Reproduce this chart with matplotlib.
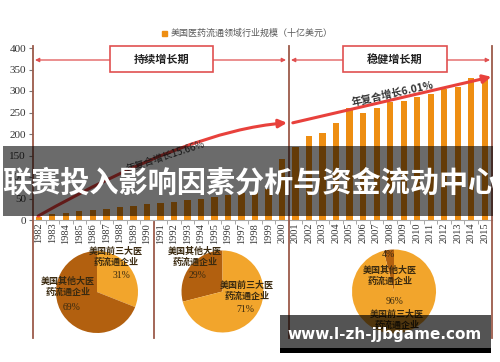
import matplotlib
matplotlib.use('Agg')
import matplotlib.pyplot as plt
from matplotlib.patches import Rectangle, FancyArrowPatch
from matplotlib.lines import Line2D
from matplotlib.path import Path

# data
years = list(range(1982, 2016))
sizes = [8, 13, 16, 20, 23, 26, 30, 33, 37,
         39, 43, 46, 49, 53, 57, 62, 66, 73, 141,
         170, 196, 203, 225, 260, 250, 261, 275, 277, 287, 292, 304, 309, 330, 335]
legend_label = '美国医药流通领域行业规模（十亿美元）'
phase_labels = ['持续增长期', '稳健增长期']
growth_labels = ['年复合增长15.66%', '年复合增长6.01%']
pie_names = ['美国前三大医\n药流通企业', '美国其他大医\n药流通企业']
pie_top3 = [31, 71, 96]
pie_other = [69, 29, 4]
title = '联赛投入影响因素分析与资金流动中心'
site = 'www.l-zh-jjbgame.com'

W, H = 500, 362
CJK = ['Noto Sans CJK SC', 'DejaVu Sans']
SERIF = 'Liberation Serif'
orange = '#EE8E12'
red = '#E8413C'
frame = '#9C5A4A'
light = '#F2A52C'
dark = '#B2600F'


def fx(x):
    return x / W


def fy(y):
    return 1 - y / H


fig = plt.figure(figsize=(5.0, 3.62), dpi=100)
fig.patch.set_facecolor('white')

ax = fig.add_axes([fx(33), fy(220), 459 / W, 172 / H])
idx = list(range(len(years)))
ax.bar(idx, sizes, width=0.45, color=orange, zorder=2)
ax.set_xlim(-0.44, 33.55)
ax.set_ylim(0, 400)
ax.set_yticks(range(0, 401, 50))
ax.set_yticklabels([str(v) for v in range(0, 401, 50)], fontfamily=SERIF, fontsize=8, color='#333333')
ax.set_xticks(idx)
ax.set_xticklabels([str(y) for y in years], rotation=90, fontfamily=SERIF, fontsize=7.5, color='#333333')
ax.set_xticks([i + 0.5 for i in idx[:-1]], minor=True)
ax.tick_params(axis='x', which='major', length=0, pad=2)
ax.tick_params(axis='x', which='minor', length=3, color='#999999')
ax.tick_params(axis='y', length=3, color='#777777', pad=2)
for s in ['top', 'right', 'left']:
    ax.spines[s].set_visible(False)
ax.spines['bottom'].set_color('#aaaaaa')

# growth arrows
p = Path([(-0.07, 9), (11.2, 209), (18.37, 226)], [Path.MOVETO, Path.CURVE3, Path.CURVE3])
ax.add_patch(FancyArrowPatch(path=p, arrowstyle='-|>', mutation_scale=12, lw=2.2,
                             color=red, zorder=3))
ax.add_patch(FancyArrowPatch((18.8, 226), (33.5, 333), arrowstyle='-|>', mutation_scale=12,
                             lw=2.2, color=red, shrinkA=0, shrinkB=0, zorder=3))
ax.text(9.33, 147, growth_labels[0], rotation=18, ha='center', va='center',
        rotation_mode='anchor', fontsize=7, family=CJK, color='#333333', zorder=4)
ax.text(26.2, 293, growth_labels[1], rotation=12.4, ha='center', va='center',
        rotation_mode='anchor', fontsize=7.5, family=CJK, fontweight='bold', color='#333333', zorder=4)

# legend
fig.patches.append(Rectangle((fx(162), fy(36)), 5 / W, 5 / H, transform=fig.transFigure,
                             color=orange))
fig.text(fx(171), fy(33), legend_label, fontsize=6.5, family=CJK, color='#595959', va='center')

# frame lines
for x, y0, y1 in [(33, 46, 338), (288.5, 46, 338), (492, 46, 338), (154, 222, 338)]:
    fig.add_artist(Line2D([fx(x), fx(x)], [fy(y0), fy(y1)], transform=fig.transFigure,
                          color=frame, lw=1.3))

# phase boxes and arrows
for (bx0, bx1, lx, rx), lab in zip([(110, 213, 35, 286), (343, 447, 291, 490)], phase_labels):
    fig.patches.append(Rectangle((fx(bx0), fy(72)), (bx1 - bx0) / W, 26 / H,
                                 transform=fig.transFigure, facecolor='white',
                                 edgecolor='#E05050', lw=1.2))
    fig.text(fx((bx0 + bx1) / 2), fy(59), lab, ha='center', va='center', fontsize=8,
             family=CJK, fontweight='bold', color='#222222')
    fig.add_artist(FancyArrowPatch((fx(bx0), fy(60)), (fx(lx), fy(60)), transform=fig.transFigure,
                                   arrowstyle='-|>', mutation_scale=6, lw=0.9, color='#E05050',
                                   shrinkA=0, shrinkB=0))
    fig.add_artist(FancyArrowPatch((fx(bx1), fy(60)), (fx(rx), fy(60)), transform=fig.transFigure,
                                   arrowstyle='-|>', mutation_scale=6, lw=0.9, color='#E05050',
                                   shrinkA=0, shrinkB=0))

# pies
pie_specs = [
    # cx, cy, r, first top3?, counterclock, label positions (top3 name, top3 pct, other name, other pct)
    (97, 292, 41, True, False, [(0.46, 0.85), (0.6, 0.41), (-0.71, 0.12), (-0.61, -0.39)]),
    (222.5, 291.5, 41, False, True, [(0.6, 0.02), (0.55, -0.43), (-0.67, 0.84), (-0.6, 0.4)]),
    (394, 291.5, 42, False, True, [(0.07, -0.68), (0.02, -0.25), (-0.1, 0.37), (-0.14, 0.87)]),
]
for k, (cx, cy, r, top_first, ccw, pos) in enumerate(pie_specs):
    pax = fig.add_axes([fx(cx - r), fy(cy + r), 2 * r / W, 2 * r / H])
    if top_first:
        vals, cols = [pie_top3[k], pie_other[k]], [light, dark]
    else:
        vals, cols = [pie_other[k], pie_top3[k]], [dark, light]
    pax.pie(vals, colors=cols, startangle=90, counterclock=ccw, radius=1)
    pax.set_xlim(-1, 1)
    pax.set_ylim(-1, 1)
    pax.set_aspect('auto')
    pax.axis('off')
    texts = [pie_names[0], '%d%%' % pie_top3[k], pie_names[1], '%d%%' % pie_other[k]]
    for t, (tx, ty) in zip(texts, pos):
        if '%' in t:
            pax.text(tx, ty, t, ha='center', va='center', fontsize=7, family=SERIF, color='#3a2a10')
        else:
            pax.text(tx, ty, t, ha='center', va='center', fontsize=6.5, family=CJK,
                     fontweight='bold', color='#3a2a10', linespacing=1.3)

# overlay banner
fig.patches.append(Rectangle((fx(3), fy(216)), 490 / W, 70 / H, transform=fig.transFigure,
                             facecolor='black', alpha=0.58, zorder=10))
fig.text(fx(250), fy(183), title, ha='center', va='center', fontsize=21, family=CJK,
         fontweight='bold', color='white', zorder=11)

# site watermark
fig.patches.append(Rectangle((fx(280), fy(348)), 211 / W, 33 / H, transform=fig.transFigure,
                             facecolor='black', alpha=0.67, zorder=10))
fig.patches.append(Rectangle((fx(280), fy(353)), 211 / W, 5 / H, transform=fig.transFigure,
                             facecolor='black', zorder=10))
fig.text(fx(385), fy(334), site, ha='center', va='center', fontsize=11, family='DejaVu Sans',
         fontweight='bold', color='white', zorder=11)

fig.savefig('out.png', dpi=100)
